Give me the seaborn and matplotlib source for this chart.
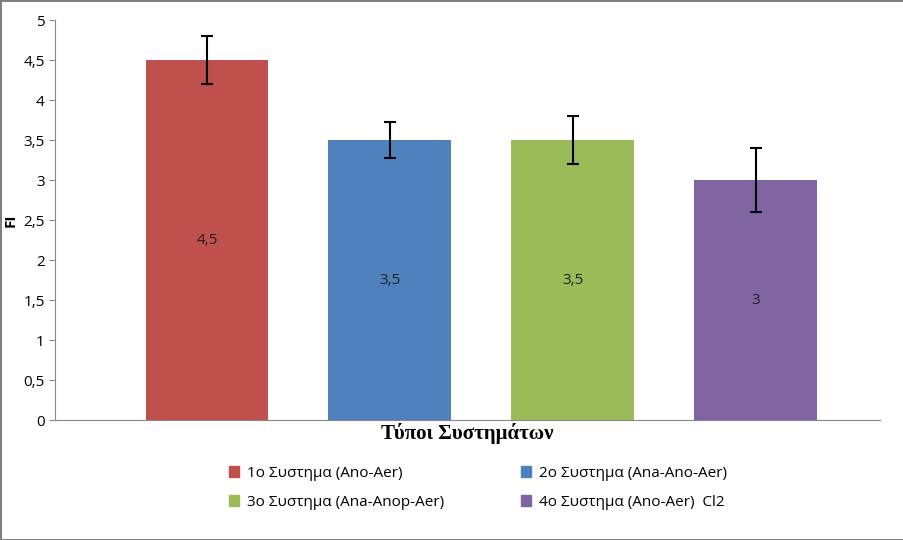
import matplotlib
matplotlib.use("Agg")
import matplotlib.pyplot as plt
import seaborn as sns
import pandas as pd
from matplotlib.patches import Patch

categories = ["1ο Συστημα (Ano-Aer)", "2ο Συστημα (Ana-Ano-Aer)",
              "3ο Συστημα (Ana-Anop-Aer)", "4ο Συστημα (Ano-Aer)  Cl2"]
values = [4.5, 3.5, 3.5, 3.0]
err_low = [0.3, 0.22, 0.3, 0.4]
err_high = [0.3, 0.22, 0.3, 0.4]
labels = ["4,5", "3,5", "3,5", "3"]
colors = ["#C0504D", "#4F81BD", "#9BBB59", "#8064A2"]
yticks = [0, 0.5, 1, 1.5, 2, 2.5, 3, 3.5, 4, 4.5, 5]
yticklabels = ["0", "0,5", "1", "1,5", "2", "2,5", "3", "3,5", "4", "4,5", "5"]

df = pd.DataFrame({"cat": categories, "val": values})
plt.rcParams["font.family"] = "Open Sans"
fig = plt.figure(figsize=(9.04, 5.40), dpi=100)
fig.patch.set_edgecolor("#808080"); fig.patch.set_linewidth(2)
ax = fig.add_axes([55/904, 1-420/540, 825/904, 400/540])
sns.barplot(data=df, x="cat", y="val", hue="cat", palette=colors, legend=False,
            width=0.67, ax=ax, errorbar=None, saturation=1)
ax.errorbar(range(4), values, yerr=[err_low, err_high], fmt="none",
            ecolor="black", elinewidth=1.5, capsize=4, capthick=1.5)
for i, (v, l) in enumerate(zip(values, labels)):
    ax.text(i, v/2, l, ha="center", va="center", fontsize=11, color="#222222")
ax.set_ylim(0, 5)
ax.set_xlim(-0.83, 3.68)
ax.set_yticks(yticks)
ax.set_yticklabels(yticklabels, fontsize=11)
ax.set_xticks([])
ax.set_xlabel("Τύποι Συστημάτων", fontsize=15, fontweight="bold", family="Liberation Serif", labelpad=2)
ax.set_ylabel("FI", fontsize=11, fontweight="bold")
ax.yaxis.set_label_coords(-37/825, 0.5)
for s in ["top", "right"]:
    ax.spines[s].set_visible(False)
ax.spines["left"].set_color("#888888"); ax.spines["bottom"].set_color("#888888")
ax.tick_params(axis="y", length=4, color="#888888")
handles = [Patch(color=c, label=n) for c, n in zip(colors, categories)]
order = [0, 2, 1, 3]
fig.legend(handles=[handles[i] for i in order], loc="upper left", bbox_to_anchor=(215/904, 1-452/540),
           ncol=2, frameon=False, fontsize=11, handlelength=0.7, handleheight=0.7,
           columnspacing=5.0, handletextpad=0.5, labelspacing=0.9)
fig.savefig("out.png", dpi=100)
